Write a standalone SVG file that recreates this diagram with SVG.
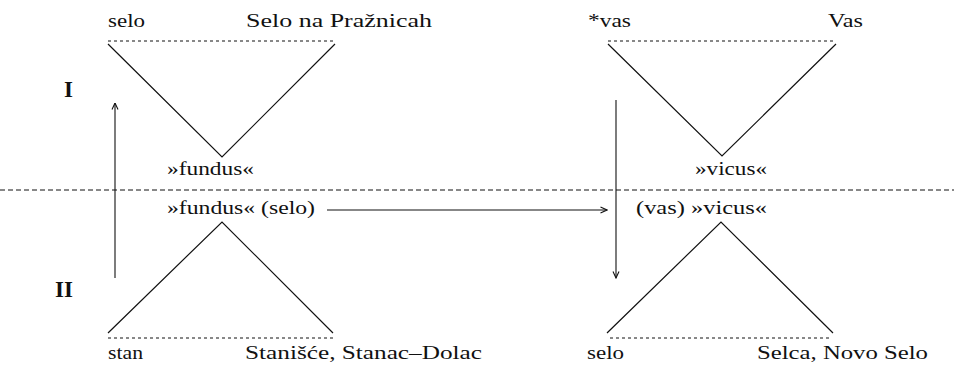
<svg xmlns="http://www.w3.org/2000/svg" width="954" height="369" viewBox="0 0 954 369">
<style>
  .t{font-family:"Liberation Serif","Times New Roman",serif;font-size:19px;fill:#111}
  .r{font-family:"Liberation Serif","Times New Roman",serif;font-size:23px;font-weight:bold;fill:#111}
  .ln{stroke:#111;stroke-width:1.2;fill:none}
  .ds{stroke:#111;stroke-width:1;stroke-dasharray:3 3;fill:none}
  .sep{stroke:#111;stroke-width:1;stroke-dasharray:5 3;fill:none}
  .ar{stroke:#111;stroke-width:1.1;fill:none}
</style>
<defs>
  <marker id="ah" viewBox="0 0 8 8" refX="7.5" refY="4" markerWidth="8" markerHeight="8" markerUnits="userSpaceOnUse" orient="auto">
    <path d="M1,1 L7.5,4 L1,7" stroke="#111" stroke-width="1.1" fill="none"/>
  </marker>
</defs>
<rect width="954" height="369" fill="#fff"/>

<line id="separator" class="sep" x1="0" y1="190" x2="954" y2="190"/>

<g id="level-I"><text class="r" x="64" y="97">I</text></g>
<g id="level-II"><text class="r" x="55" y="297">II</text></g>

<g id="tri-top-left">
  <line class="ds" x1="108" y1="41" x2="335" y2="41"/>
  <polyline class="ln" points="108,44 222,157 335,44"/>
  <text class="t" x="108" y="27" textLength="37" lengthAdjust="spacingAndGlyphs">selo</text>
  <text class="t" x="246" y="27" textLength="186" lengthAdjust="spacingAndGlyphs">Selo na Pražnicah</text>
  <text class="t" x="167" y="175" textLength="87" lengthAdjust="spacingAndGlyphs">»fundus«</text>
</g>

<g id="tri-top-right">
  <line class="ds" x1="608" y1="41" x2="836" y2="41"/>
  <polyline class="ln" points="608,44 722,156 836,44"/>
  <text class="t" x="588" y="27" textLength="43" lengthAdjust="spacingAndGlyphs">*vas</text>
  <text class="t" x="828" y="27" textLength="35" lengthAdjust="spacingAndGlyphs">Vas</text>
  <text class="t" x="695" y="175" textLength="72" lengthAdjust="spacingAndGlyphs">»vicus«</text>
</g>

<g id="tri-bottom-left">
  <polyline class="ln" points="108,333 222,222 333,333"/>
  <line class="ds" x1="108" y1="338" x2="333" y2="338"/>
  <text class="t" x="167" y="214" textLength="148" lengthAdjust="spacingAndGlyphs">»fundus« (selo)</text>
  <text class="t" x="108" y="359" textLength="35" lengthAdjust="spacingAndGlyphs">stan</text>
  <text class="t" x="245" y="359" textLength="237" lengthAdjust="spacingAndGlyphs">Stanišće, Stanac–Dolac</text>
</g>

<g id="tri-bottom-right">
  <polyline class="ln" points="607,333 721,222 833,333"/>
  <line class="ds" x1="610" y1="338" x2="832" y2="338"/>
  <text class="t" x="636" y="214" textLength="131" lengthAdjust="spacingAndGlyphs">(vas) »vicus«</text>
  <text class="t" x="587" y="359" textLength="37" lengthAdjust="spacingAndGlyphs">selo</text>
  <text class="t" x="757" y="359" textLength="171" lengthAdjust="spacingAndGlyphs">Selca, Novo Selo</text>
</g>

<g id="connectors">
  <line class="ar" x1="115" y1="278" x2="115" y2="103" marker-end="url(#ah)"/>
  <line class="ar" x1="327" y1="210" x2="607" y2="210" marker-end="url(#ah)"/>
  <line class="ar" x1="616" y1="100" x2="616" y2="278" marker-end="url(#ah)"/>
</g>
</svg>
